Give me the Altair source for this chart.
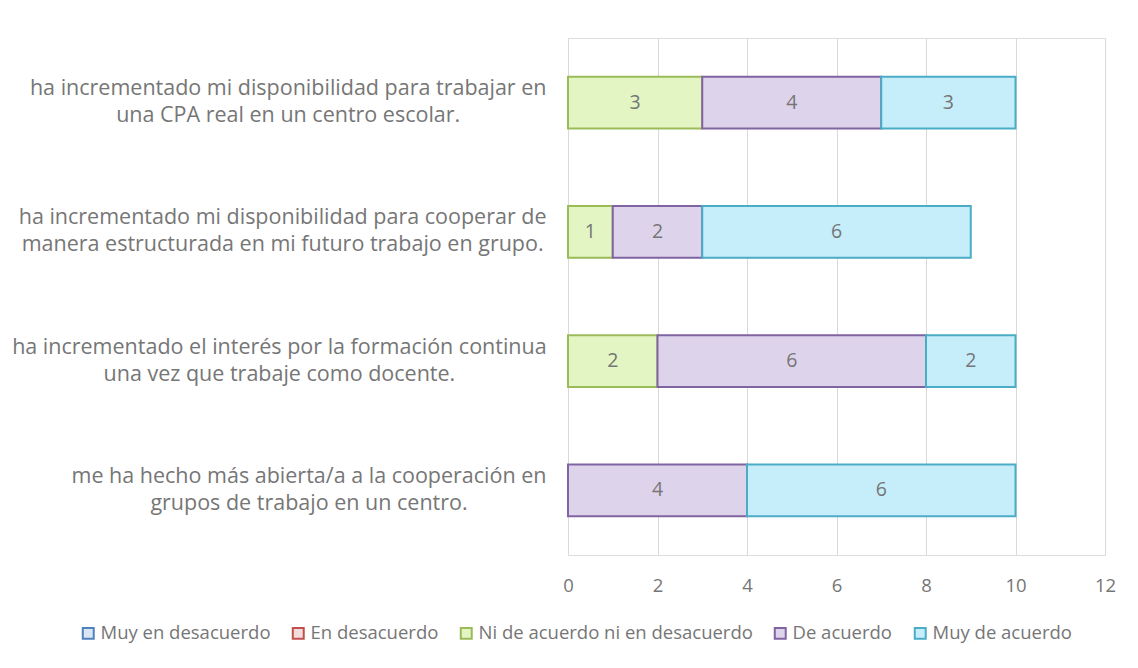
import altair as alt
import pandas as pd
import json

preguntas = [
    "ha incrementado mi disponibilidad para trabajar en|una CPA real en un centro escolar.",
    "ha incrementado mi disponibilidad para cooperar de|manera estructurada en mi futuro trabajo en grupo.",
    "ha incrementado el interés por la formación continua|una vez que trabaje como docente.",
    "me ha hecho más abierta/a a la cooperación en|grupos de trabajo en un centro.",
]
categorias = ["Muy en desacuerdo", "En desacuerdo", "Ni de acuerdo ni en desacuerdo",
              "De acuerdo", "Muy de acuerdo"]
muy_en_desacuerdo = [0, 0, 0, 0]
en_desacuerdo = [0, 0, 0, 0]
ni_ni = [3, 1, 2, 0]
de_acuerdo = [4, 2, 6, 4]
muy_de_acuerdo = [3, 6, 2, 6]

fills = ["#dbe6f4", "#f4dcdc", "#e3f5c3", "#ddd3eb", "#c6eefa"]
strokes = ["#4f81bd", "#c0504d", "#9bbb59", "#8064a2", "#4bacc6"]
FONT = "Open Sans"
TXT = "#767676"
LABEL_SIZE = 21.5
GAP = 22

# approximate Open Sans advance widths (per 1000 em) to centre wrapped lines
ADV = {" ": 260, "a": 556, "b": 613, "c": 480, "d": 613, "e": 561, "f": 336, "g": 544,
       "h": 613, "i": 252, "j": 252, "l": 252, "m": 930, "n": 613, "o": 599, "p": 613,
       "r": 408, "s": 477, "t": 353, "u": 613, "v": 500, "y": 500, "z": 464, ".": 266,
       "/": 367, "C": 579, "P": 557, "A": 633, "á": 556, "é": 561, "ó": 599}


def text_w(s):
    return sum(ADV.get(ch, 560) for ch in s) * LABEL_SIZE / 1000


series = [muy_en_desacuerdo, en_desacuerdo, ni_ni, de_acuerdo, muy_de_acuerdo]
rows = []
for ci, (cat, vals) in enumerate(zip(categorias, series)):
    for p, v in zip(preguntas, vals):
        rows.append({"pregunta": p, "categoria": cat, "valor": v, "orden": ci})
df = pd.DataFrame(rows)

# lines centred inside a right-aligned block (like the original)
conds = []
for p in preguntas:
    longest = max(text_w(s) for s in p.split("|"))
    conds.append({"test": "datum.value == " + json.dumps(p),
                  "value": round(GAP + longest / 2, 1)})
label_padding = {"condition": conds, "value": 280}

base = alt.Chart(df).transform_stack(
    stack="valor", groupby=["pregunta"], as_=["x0", "x1"],
    sort=[alt.SortField("orden", order="ascending")]
).transform_calculate(mid="(datum.x0 + datum.x1) / 2")

y_enc = alt.Y("pregunta:N", sort=preguntas, title=None,
              scale=alt.Scale(paddingInner=0.6, paddingOuter=0.3),
              axis=alt.Axis(labelExpr="split(datum.label, '|')", labelAlign="center",
                            labelPadding=label_padding, labelFontSize=LABEL_SIZE,
                            labelLineHeight=27, labelOffset=-13.5,
                            labelColor=TXT, labelFont=FONT,
                            domain=False, ticks=False, labelLimit=600))

bars = base.mark_bar(strokeWidth=2).encode(
    x=alt.X("x0:Q", title=None,
            scale=alt.Scale(domain=[0, 12], nice=False),
            axis=alt.Axis(values=[0, 2, 4, 6, 8, 10, 12], grid=True, gridColor="#d9d9d9",
                          domain=False, ticks=False, labelFontSize=18.5, labelColor=TXT,
                          labelPadding=21, labelFont=FONT, labelFlush=False)),
    x2="x1:Q",
    y=y_enc,
    color=alt.Color("categoria:N", scale=alt.Scale(domain=categorias, range=fills),
                    legend=alt.Legend(title=None, orient="none", direction="horizontal",
                                      legendX=-489, legendY=586, symbolType="square",
                                      symbolSize=120, symbolStrokeWidth=2,
                                      labelFontSize=18.5, labelColor=TXT,
                                      labelFont=FONT, labelLimit=400,
                                      columnPadding=17, labelOffset=3)),
    stroke=alt.Stroke("categoria:N", scale=alt.Scale(domain=categorias, range=strokes)),
).transform_filter("datum.valor > 0")

labels = base.mark_text(fontSize=19.5, color=TXT, font=FONT).encode(
    x=alt.X("mid:Q"),
    y=alt.Y("pregunta:N", sort=preguntas),
    text=alt.Text("valor:Q"),
).transform_filter("datum.valor > 0")

chart = alt.layer(bars, labels).properties(
    width=537, height=517,
    autosize=alt.AutoSizeParams(type="none"),
    padding={"left": 560, "top": 30, "right": 20, "bottom": 100},
).configure_view(stroke=None).configure(background="white")

chart.save("out.html", embed_options={"renderer": "svg", "actions": False})
